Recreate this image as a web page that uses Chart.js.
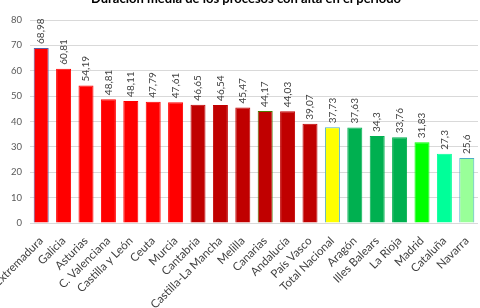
<!DOCTYPE html>
<html><head><meta charset="utf-8">
<script src="https://cdn.jsdelivr.net/npm/chart.js@4.4.0/dist/chart.umd.min.js"></script>
<style>html,body{margin:0;padding:0;background:#fff;}#wrap{width:480px;height:308px;position:relative;}</style>
</head><body><div id="wrap"><canvas id="c" width="480" height="308"></canvas></div>
<script>
const categories = ["Extremadura","Galicia","Asturias","C. Valenciana","Castilla y León","Ceuta","Murcia","Cantabria","Castilla-La Mancha","Melilla","Canarias","Andalucía","País Vasco","Total Nacional","Aragón","Illes Balears","La Rioja","Madrid","Cataluña","Navarra"];
const values = [68.98,60.81,54.19,48.81,48.11,47.79,47.61,46.65,46.54,45.47,44.17,44.03,39.07,37.73,37.63,34.3,33.76,31.83,27.3,25.6];
const barColors = ["#FF0000","#FF0000","#FF0000","#FF0000","#FF0000","#FF0000","#FF0000","#C00000","#C00000","#C00000","#C00000","#C00000","#C00000","#FFFF00","#00B050","#00B050","#00B050","#00FF00","#00FF99","#99FF99"];
const barBorders = ["#5B5BA0","#FF0000","#FF0000","#FF0000","#FF0000","#FF0000","#FF0000","#C00000","#C00000","#C00000","#4F7A00","#C00000","#C00000","#4BACC6","#00B050","#00B050","#00B050","#00FF00","#00FF99","#4BACC6"];
const yTicks = [0,10,20,30,40,50,60,70,80];
const titleText = "Duración media de los procesos con alta en el período";
const FONT = "Lato, 'Open Sans', sans-serif";

const titlePlugin = {
  id:'topTitle',
  afterDraw(chart){
    const ctx = chart.ctx;
    ctx.save();
    ctx.font = "bold 13px " + FONT;
    ctx.fillStyle = "#000";
    ctx.textAlign = "center";
    ctx.textBaseline = "middle";
    ctx.fillText(titleText, 246, -1);
    ctx.restore();
  }
};
const labelPlugin = {
  id:'valLabels',
  afterDatasetsDraw(chart){
    const ctx = chart.ctx;
    const meta = chart.getDatasetMeta(0);
    ctx.save();
    ctx.font = "10px " + FONT;
    ctx.fillStyle = "#404040";
    ctx.textAlign = "left";
    ctx.textBaseline = "middle";
    meta.data.forEach((bar,i)=>{
      const txt = String(values[i]).replace('.', ',');
      ctx.save();
      ctx.translate(bar.x, bar.y - 4);
      ctx.rotate(-Math.PI/2);
      ctx.fillText(txt, 0, 0);
      ctx.restore();
    });
    ctx.restore();
  }
};

new Chart(document.getElementById('c'), {
  type:'bar',
  data:{ labels: categories, datasets:[{ data: values, backgroundColor: barColors, borderColor: barBorders, borderWidth: 1, categoryPercentage: 1, barPercentage: 0.67 }]},
  options:{
    responsive:false, animation:false,
    layout:{ padding:{ top:20, right:2, left:0, bottom:0 } },
    plugins:{ legend:{display:false}, tooltip:{enabled:false}, title:{display:false} },
    scales:{
      x:{
        grid:{ display:false },
        border:{ display:false },
        ticks:{ autoSkip:false, maxRotation:45, minRotation:45, color:"#404040", font:{ family:FONT, size:11.5 }, padding:3 },
        afterFit(s){ s.height = 85; s.paddingLeft = 0; s.paddingRight = 0; }
      },
      y:{
        min:0, max:80,
        afterBuildTicks(s){ s.ticks = yTicks.map(v=>({value:v})); },
        grid:{ color:"#D9D9D9", drawTicks:false },
        border:{ display:false },
        ticks:{ color:"#595959", font:{ family:FONT, size:9.5 }, padding:8 },
        afterFit(s){ s.width = 30; }
      }
    }
  },
  plugins:[titlePlugin, labelPlugin]
});
</script></body></html>
